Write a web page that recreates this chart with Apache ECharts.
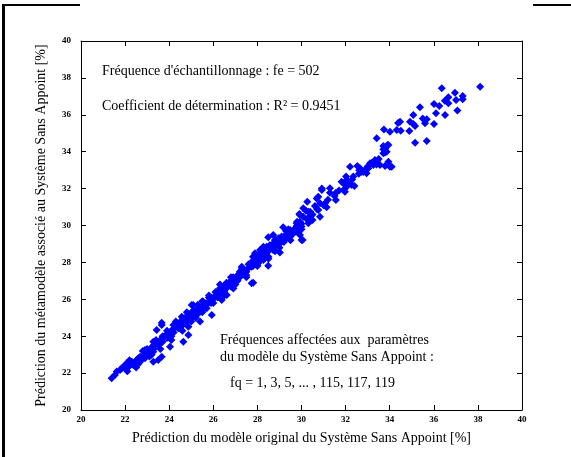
<!DOCTYPE html>
<html>
<head>
<meta charset="utf-8">
<script src="https://cdn.jsdelivr.net/npm/echarts@6/dist/echarts.min.js"></script>
<style>
html,body{margin:0;padding:0;background:#fff;}
#chart{width:571px;height:457px;}
</style>
</head>
<body>
<div id="chart"></div>
<script>
// Axis ticks
const axisMin = 20, axisMax = 40, axisStep = 2;
const xTitle = "Prédiction du modèle original du Système Sans Appoint [%]";
const yTitle = "Prédiction du métamodèle associé au Système Sans Appoint [%]";
const note1 = "Fréquence d'échantillonnage : fe = 502";
const note2 = "Coefficient de détermination : R² = 0.9451";
const note3a = "Fréquences affectées aux  paramètres";
const note3b = "du modèle du Système Sans Appoint :";
const note3c = "fq = 1, 3, 5, ... , 115, 117, 119";

// Points: [original, metamodel]
const lowerPoints = [
 [21.39,21.72],[21.54,21.90],[21.62,22.08],[21.77,22.17],[21.85,22.26],[21.92,22.35],[22.07,22.53],[22.15,22.35],
 [22.30,22.62],[22.37,22.44],[22.52,22.71],[22.68,22.89],[22.68,22.62],[22.90,22.80],[22.90,23.25],[23.13,22.98],
 [23.28,23.16],[23.28,22.62],[23.50,22.71],[23.66,22.89],[23.28,23.70],[23.58,23.61],[23.43,24.34],[23.66,24.61],
 [23.73,23.97],[24.04,24.16],[24.04,23.43],[24.64,23.70],[24.87,24.07],[24.34,24.70],[24.57,25.06],[24.79,24.79],
 [25.09,25.06],[25.02,25.69],[23.66,24.73],[24.19,24.61],[24.41,24.43],[24.49,24.70],[24.72,24.88],[24.87,24.51],
 [25.02,24.97],[25.25,25.24],[25.40,24.79],[25.47,25.42],[25.70,25.51],[25.93,25.15],[25.09,25.69],[25.55,25.87],
 [25.85,26.05],[26.15,26.32],[26.38,25.96],[26.61,26.23],[26.45,26.68],[26.91,26.59],[26.76,26.95],[27.06,27.22],
 [27.44,27.50],[27.29,27.77],[27.66,27.86],[27.74,26.87],[27.89,28.22],
 [22.0,22.3],[22.2,22.4],[22.4,22.5],[22.5,22.6],[22.6,22.8],[22.8,22.9],[22.9,23.0],[23.0,23.1],[23.1,23.2],
 [23.2,23.4],[23.3,23.3],[23.4,23.6],[23.5,23.5],[23.6,23.8],[23.7,23.7],[23.8,24.0],[23.9,24.1],[24.0,24.2],
 [24.1,24.3],[24.2,24.4],[24.3,24.5],[24.4,24.5],[24.5,24.7],[24.6,24.6],[24.7,24.9],[24.8,24.8],[24.9,25.0],
 [25.0,25.2],[25.1,25.1],[25.2,25.3],[25.3,25.5],[25.4,25.4],[25.5,25.6],[25.6,25.8],[25.7,25.7],[25.8,25.9],
 [25.9,26.1],[26.0,26.0],[26.1,26.2],[26.2,26.4],[26.3,26.3],[26.4,26.5],[26.5,26.7],[26.6,26.6],[26.7,26.8],
 [26.8,27.0],[26.9,26.9],[27.0,27.1],[27.1,27.3],[27.2,27.2],[27.3,27.4],[27.4,27.6],[27.5,27.5],[27.6,27.7],
 [27.7,27.9],[27.8,27.8],[27.9,28.0],
 [22.3,22.6],[22.7,22.7],[23.0,23.3],[23.3,23.5],[23.6,23.6],[23.9,23.9],[24.2,24.2],[24.4,24.7],[24.6,24.9],
 [24.9,25.2],[25.1,25.4],[25.3,25.2],[25.6,25.5],[25.8,26.1],[26.1,26.4],[26.3,26.6],[26.6,26.9],[26.8,26.7],
 [27.1,27.0],[27.3,27.6],[27.6,27.9],[22.1,22.1],[22.6,22.5],[23.2,23.0],[23.7,24.0],[24.1,24.0],[24.5,24.4],
 [24.8,25.1],[25.2,25.0],[25.5,25.9],[25.9,25.8],[26.2,26.1],[26.5,26.4],[26.9,27.2],[27.2,27.5],[27.5,27.3],
 [22.2,22.7],[22.5,22.3],[22.8,23.2],[23.1,22.9],[23.4,23.8],[23.6,23.3],[23.9,24.3],[24.1,23.8],[24.3,24.8],
 [24.6,24.3],[24.8,25.3],[25.0,24.8],[25.3,25.7],[25.5,25.3],[25.8,26.2],[26.0,25.8],[26.3,26.8],[26.5,26.2],
 [26.8,27.2],[27.0,26.8],[27.3,27.7],[27.5,27.2]
];
const middlePoints = [
 [27.74,27.77],[27.81,28.04],[27.97,28.31],[28.04,27.95],[28.12,28.49],[28.27,28.13],[28.27,28.85],[28.42,28.63],
 [28.49,29.36],[28.49,27.82],[28.57,28.94],[28.72,28.67],[28.80,29.21],[28.95,29.03],[29.02,28.53],[29.10,29.31],
 [29.17,29.90],[29.33,29.49],[29.48,29.76],[29.63,29.58],[29.71,29.85],[29.78,30.12],[29.86,29.61],[29.93,29.49],
 [30.00,29.21],[29.93,30.21],[30.00,29.94],[30.08,30.48],[30.24,30.34],[30.31,30.12],[29.90,30.62],[30.31,30.75],
 [30.46,30.57],[30.84,30.48],[30.08,30.93],[30.26,31.29],[30.61,31.06],[30.76,30.84],[30.84,31.20],[31.14,30.99],
 [30.69,31.47],[30.92,31.92],[27.81,26.90],[27.89,28.49],[28.12,28.67],[28.27,28.40],[28.42,28.85],[28.72,29.49],
 [28.95,29.31],[29.33,29.39],[29.71,29.66],[30.05,29.21],[29.93,30.57],[30.39,30.75],[30.76,31.56],[31.07,31.20],
 [30.92,32.01],
 [28.0,28.2],[28.1,28.1],[28.2,28.3],[28.3,28.5],[28.4,28.4],[28.5,28.6],[28.6,28.8],[28.7,28.7],[28.8,28.9],
 [28.9,29.1],[29.0,29.0],[29.1,29.2],[29.2,29.4],[29.3,29.3],[29.4,29.5],[29.5,29.7],[29.6,29.6],[29.7,29.8],
 [29.8,30.0],[29.9,29.9],[30.0,30.1],[27.9,28.2],[28.2,28.5],[28.5,28.3],[28.7,29.0],[29.0,29.3],[29.2,29.1],
 [29.5,29.4],[29.8,29.7],[27.8,28.1],[28.1,28.4],[28.4,28.7],[28.8,28.6],[29.1,29.4],[29.4,29.8],
 [30.5,30.6],[30.7,30.9],[31.0,31.1],[31.2,31.4],
 [27.8,28.3],[28.0,27.8],[28.3,28.7],[28.5,28.2],[28.8,29.2],[29.0,28.8],[29.3,29.7],[29.5,29.2],[29.8,30.2],
 [30.0,29.8],[30.3,30.4],[30.5,30.3],[30.2,30.8]
];
const upperPoints = [
 [31.29,31.78],[31.56,31.78],[31.56,31.38],[31.29,32.02],[31.82,32.37],[31.90,32.29],[31.94,31.96],[31.97,31.83],
 [32.02,32.65],[32.05,32.10],[32.05,32.47],[32.12,32.37],[32.28,32.20],[32.35,32.65],[32.40,32.14],[32.20,33.19],
 [32.53,33.22],[32.62,33.00],[32.65,33.10],[32.72,32.92],[32.95,32.83],[32.95,33.10],[33.03,33.10],[33.11,33.37],
 [33.26,33.28],[33.33,33.55],[33.33,33.46],[33.41,33.46],[33.56,33.28],[33.79,33.22],[33.94,33.46],[34.01,33.19],
 [34.09,33.19],[33.41,34.73],[33.71,34.31],[33.71,34.13],[33.79,33.95],[33.71,33.91],[33.86,34.00],[33.79,34.18],
 [33.90,34.36],[33.94,34.36],[33.79,34.09],[33.74,35.21],[34.01,35.08],[34.32,35.17],[34.50,35.14],[34.38,35.56],
 [34.47,35.63],[34.89,35.12],[34.92,35.63],[35.07,35.50],[35.07,35.99],[35.15,35.39],[35.15,34.49],[35.68,34.58],
 [35.37,36.41],[35.50,35.80],[35.60,35.54],[35.68,35.76],[36.01,35.50],[36.01,36.59],[36.10,36.08],[36.25,36.48],
 [36.36,37.44],[36.50,36.76],[36.51,35.99],[36.66,36.62],[36.66,36.95],[36.96,37.20],[37.01,36.80],[37.07,36.23],
 [37.31,37.02],[37.31,36.84],[38.10,37.52],
 [31.5,31.6],[31.7,31.9],[32.0,32.2],[32.3,32.5],[32.6,32.8],[32.8,32.9],[33.0,33.2],[33.2,33.4],[33.4,33.3],[33.5,33.6]
];

const chart = echarts.init(document.getElementById('chart'), null, {renderer: 'canvas'});
const serif = "'Liberation Serif', 'Times New Roman', serif";
const tickLabel = {fontFamily: serif, fontSize: 9, fontWeight: 'bold', color: '#000'};
function mkAxis(extra) {
  return Object.assign({
    type: 'value', min: axisMin, max: axisMax, interval: axisStep,
    axisLine: {show: true, onZero: false, lineStyle: {color: '#000', width: 1}},
    axisTick: {show: true, inside: true, length: 5, lineStyle: {color: '#000'}},
    splitLine: {show: false}
  }, extra);
}
const allPoints = lowerPoints.concat(middlePoints, upperPoints);
chart.setOption({
  backgroundColor: '#fff',
  animation: false,
  grid: {left: 81, right: 49, top: 41, bottom: 47, show: false},
  xAxis: [
    mkAxis({position: 'bottom', name: xTitle, nameLocation: 'middle', nameGap: 21,
      nameTextStyle: {fontFamily: serif, fontSize: 14, color: '#000'},
      axisLabel: Object.assign({margin: 5}, tickLabel)}),
    mkAxis({position: 'top', axisLabel: {show: false}})
  ],
  yAxis: [
    mkAxis({position: 'left', name: yTitle, nameLocation: 'middle', nameGap: 33,
      nameTextStyle: {fontFamily: serif, fontSize: 14, color: '#000'},
      axisLabel: Object.assign({margin: 10}, tickLabel)}),
    mkAxis({position: 'right', axisLabel: {show: false}})
  ],
  series: [{
    type: 'scatter', xAxisIndex: 0, yAxisIndex: 0,
    symbol: 'diamond', symbolSize: 8,
    itemStyle: {color: '#0000ff', opacity: 1},
    data: allPoints
  }],
  graphic: [
    {type: 'rect', shape: {x: 2, y: 4, width: 3, height: 453}, style: {fill: '#000'}},
    {type: 'rect', shape: {x: 2, y: 4, width: 78, height: 2}, style: {fill: '#000'}},
    {type: 'rect', shape: {x: 533, y: 4, width: 38, height: 2}, style: {fill: '#000'}},
    {type: 'text', left: 102, top: 64, style: {text: note1, font: "14px " + serif, fill: '#000'}},
    {type: 'text', left: 102, top: 99, style: {text: note2, font: "14px " + serif, fill: '#000'}},
    {type: 'text', left: 220, top: 333, style: {text: note3a, font: "14px " + serif, fill: '#000'}},
    {type: 'text', left: 220, top: 350, style: {text: note3b, font: "14px " + serif, fill: '#000'}},
    {type: 'text', left: 230, top: 376, style: {text: note3c, font: "14px " + serif, fill: '#000'}}
  ]
});
</script>
</body>
</html>
